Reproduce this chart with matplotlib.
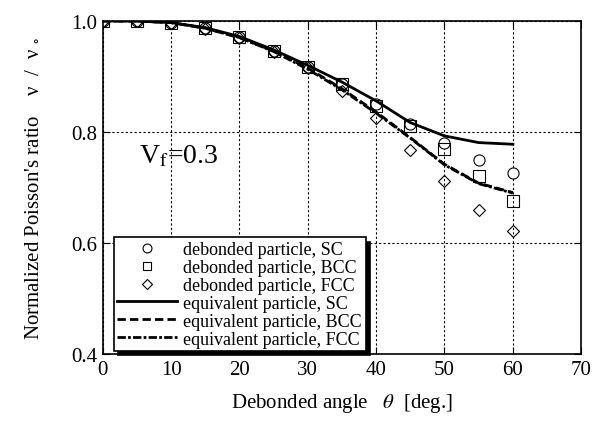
import numpy as np
import matplotlib
matplotlib.use('Agg')
import matplotlib.pyplot as plt

# datos
angulo = [0, 5, 10, 15, 20, 25, 30, 35, 40, 45, 50, 55, 60]
sc_pts = [1.0, 1.0, 0.996, 0.987, 0.971, 0.946, 0.917, 0.887, 0.850, 0.815, 0.780, 0.750, 0.726]
bcc_pts = [1.0, 1.0, 0.996, 0.987, 0.971, 0.946, 0.917, 0.886, 0.847, 0.811, 0.769, 0.720, 0.676]
fcc_pts = [1.0, 1.0, 0.996, 0.985, 0.970, 0.945, 0.916, 0.874, 0.825, 0.768, 0.712, 0.659, 0.622]

sc_eq = [1.0, 1.0, 0.997, 0.988, 0.972, 0.948, 0.920, 0.890, 0.856, 0.817, 0.793, 0.781, 0.778]
bcc_eq = [1.0, 1.0, 0.997, 0.987, 0.970, 0.946, 0.915, 0.878, 0.836, 0.790, 0.742, 0.708, 0.691]
fcc_eq = [1.0, 1.0, 0.997, 0.987, 0.970, 0.945, 0.913, 0.876, 0.834, 0.789, 0.741, 0.707, 0.690]

plt.rcParams['font.family'] = 'Liberation Serif'
plt.rcParams['mathtext.fontset'] = 'stix'

fig = plt.figure(figsize=(6.01, 4.31), dpi=100)
ax = fig.add_axes([0.171, 0.176, 0.796, 0.773])

ax.plot(angulo, sc_pts, 'o', mfc='white', mec='black', ms=8, mew=0.8, label='debonded particle, SC')
ax.plot(angulo, bcc_pts, 's', mfc='none', mec='black', ms=8, mew=0.8, label='debonded particle, BCC')
ax.plot(angulo, fcc_pts, 'D', mfc='none', mec='black', ms=6.5, mew=0.8, label='debonded particle, FCC')
ax.plot(angulo, sc_eq, '-', color='black', lw=2, label='equivalent particle, SC')
ax.plot(angulo, bcc_eq, '--', color='black', lw=2, dashes=(3, 1.5), label='equivalent particle, BCC')
ax.plot(angulo, fcc_eq, '-.', color='black', lw=2, dashes=(3, 0.8, 1, 0.8), label='equivalent particle, FCC')

ax.set_xlim(0, 70)
ax.set_ylim(0.4, 1.0)
ax.set_xticks(np.arange(0, 71, 10))
ax.set_yticks([0.4, 0.6, 0.8, 1.0])
ax.set_yticklabels(['0.4', '0.6', '0.8', '1.0'])
ax.grid(True, linestyle=(0, (2, 2)), color='black', lw=0.8)
ax.tick_params(direction='in', top=True, right=True, labelsize=15, length=5, pad=4)
for s in ax.spines.values():
    s.set_linewidth(1.2)

ax.set_xlabel(r'Debonded angle   $\theta$  [deg.]', fontsize=15, labelpad=9)
ax.set_ylabel("Normalized Poisson's ratio    ν  /  ν $_{\\circ}$", fontsize=15, labelpad=21)

ax.text(5.3, 0.745, r'V$_{\rm f}$=0.3', fontsize=20)

leg = ax.legend(loc='lower left', bbox_to_anchor=(0.023, 0.009), fontsize=13,
                frameon=True, fancybox=False, edgecolor='black', framealpha=1,
                shadow={'color': 'black', 'alpha': 1, 'ox': 3, 'oy': -3},
                handlelength=3.3, labelspacing=0.05, borderpad=0.2, handletextpad=0.35,
                borderaxespad=0, markerscale=0.8)
leg.get_frame().set_linewidth(1.2)

plt.savefig('out.png', dpi=100)
